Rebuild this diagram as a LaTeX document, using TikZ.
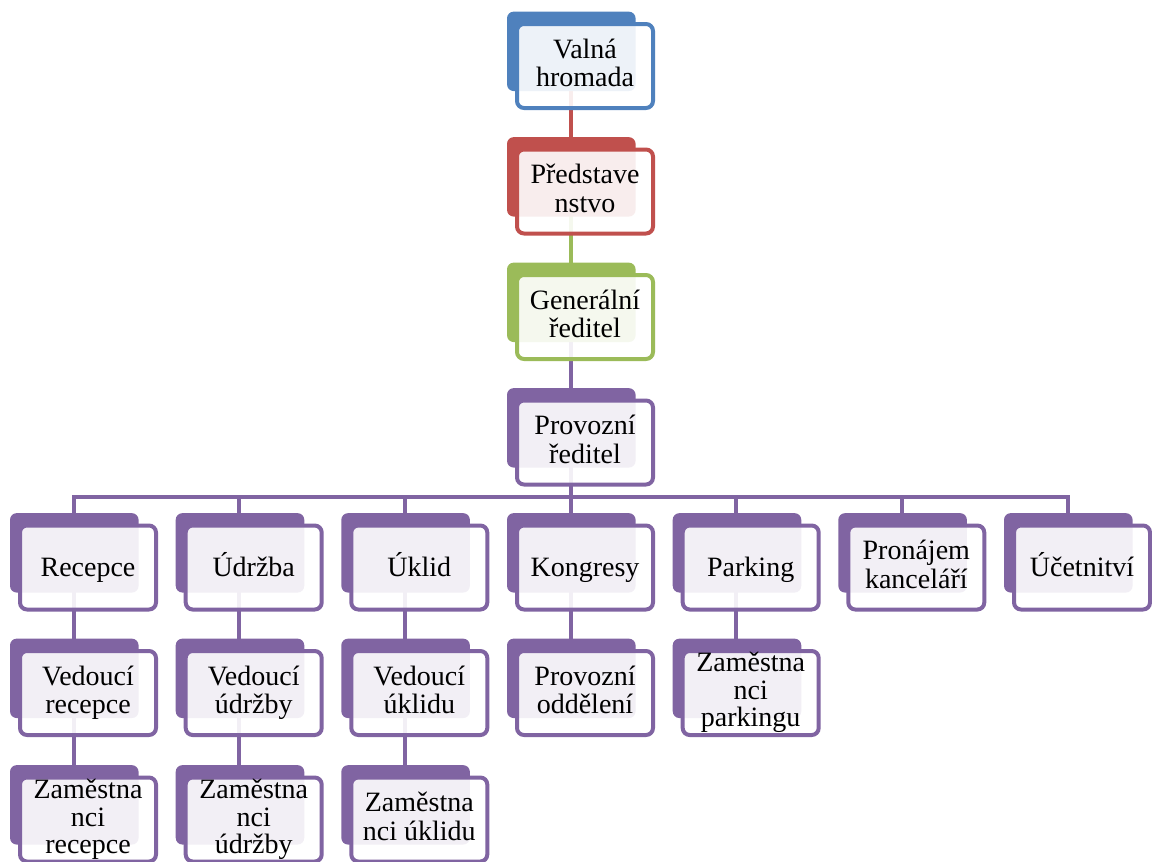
\documentclass[tikz,border=0pt]{standalone}
\usepackage{fontspec}
\setmainfont{Liberation Serif}
\usetikzlibrary{shadows,backgrounds}

\definecolor{orgblue}{HTML}{4F81BD}
\definecolor{orgred}{HTML}{C0504D}
\definecolor{orggreen}{HTML}{9BBB59}
\definecolor{orgpurple}{HTML}{8064A2}

\tikzset{
  orgbox/.style={draw=#1, line width=4pt, rounded corners=7pt,
    fill=white, fill opacity=0.9, text opacity=1,
    minimum width=136pt, minimum height=84pt, inner sep=0pt,
    align=center, font=\rmfamily\fontsize{28}{28.5}\selectfont,
    execute at begin node={\rule{0pt}{25pt}},
    execute at end node={\rule[-6.5pt]{0pt}{6.5pt}},
    general shadow={fill=#1, fill opacity=1, shadow xshift=-14.5pt,
      shadow yshift=15.5pt, shadow scale=0.945}},
  threeline/.style={execute at begin node={}, execute at end node={},
    font=\rmfamily\fontsize{28}{27.5}\selectfont},
  link/.style={draw=#1, line width=4pt}
}

\begin{document}
\begin{tikzpicture}[x=1pt,y=-1pt]
	\useasboundingbox (0,0) rectangle (1152,862);

	% main line
	\node[orgbox=orgblue] (vh) at (585,66) {Valná\\hromada};
	\node[orgbox=orgred] (ps) at (585,191.5) {Představe\\nstvo};
	\node[orgbox=orggreen] (gr) at (585,317) {Generální\\ředitel};
	\node[orgbox=orgpurple] (pr) at (585,442.5) {Provozní\\ředitel};

	% departments
	\newcommand{\rowa}{567.5}
	\newcommand{\rowb}{693}
	\newcommand{\rowc}{819.5}
	\node[orgbox=orgpurple] (rc) at (88,\rowa) {Recepce};
	\node[orgbox=orgpurple] (ud) at (253.7,\rowa) {Údržba};
	\node[orgbox=orgpurple] (uk) at (419.3,\rowa) {Úklid};
	\node[orgbox=orgpurple] (ko) at (585,\rowa) {Kongresy};
	\node[orgbox=orgpurple] (pa) at (750.7,\rowa) {Parking};
	\node[orgbox=orgpurple] (pn) at (916.3,\rowa) {Pronájem\\kanceláří};
	\node[orgbox=orgpurple] (uc) at (1082,\rowa) {Účetnitví};

	\node[orgbox=orgpurple] (vr) at (88,\rowb) {Vedoucí\\recepce};
	\node[orgbox=orgpurple] (vu) at (253.7,\rowb) {Vedoucí\\údržby};
	\node[orgbox=orgpurple] (vk) at (419.3,\rowb) {Vedoucí\\úklidu};
	\node[orgbox=orgpurple] (po) at (585,\rowb) {Provozní\\oddělení};
	\node[orgbox=orgpurple, threeline] (zp) at (750.7,\rowb) {Zaměstna\\nci\\parkingu};

	\node[orgbox=orgpurple, threeline] (zr) at (88,\rowc) {Zaměstna\\nci\\recepce};
	\node[orgbox=orgpurple, threeline] (zu) at (253.7,\rowc) {Zaměstna\\nci\\údržby};
	\node[orgbox=orgpurple] (zk) at (419.3,\rowc) {Zaměstna\\nci úklidu};

	% connectors
	\begin{pgfonlayer}{background}
		\draw[link=orgred] ([xshift=-14.5pt]vh.center) -- ([xshift=-14.5pt]ps.center);
		\draw[link=orggreen] ([xshift=-14.5pt]ps.center) -- ([xshift=-14.5pt]gr.center);
		\draw[link=orgpurple] ([xshift=-14.5pt]gr.center) -- ([xshift=-14.5pt]pr.center);
		\draw[link=orgpurple] ([xshift=-14.5pt]pr.center) -- ++(0,54) coordinate (bus);
		\foreach \n in {rc,ud,uk,ko,pa,pn,uc}
			\draw[link=orgpurple] ([xshift=-14.5pt]\n.center) |- (bus);
		\foreach \a/\b in {rc/vr,vr/zr,ud/vu,vu/zu,uk/vk,vk/zk,ko/po,pa/zp}
			\draw[link=orgpurple] ([xshift=-14.5pt]\a.center) -- ([xshift=-14.5pt]\b.center);
	\end{pgfonlayer}

\end{tikzpicture}
\end{document}
